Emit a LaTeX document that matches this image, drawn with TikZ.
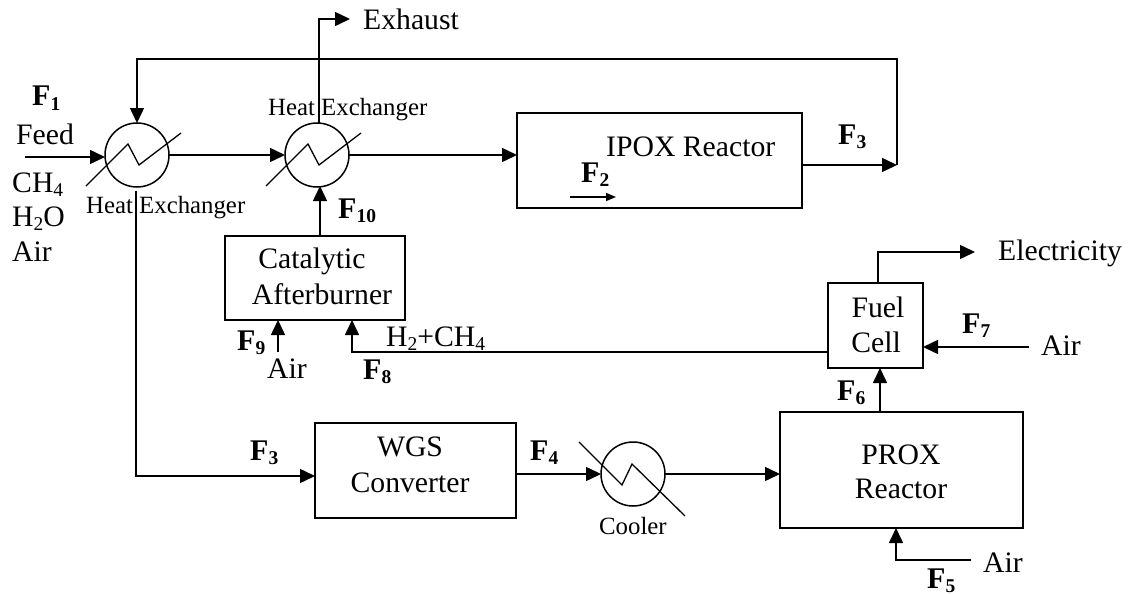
\documentclass[tikz,border=0pt]{standalone}
\usepackage{fontspec}
\setmainfont{Liberation Serif}
\usetikzlibrary{arrows.meta}
\tikzset{
  line/.style={line width=1.5pt,draw=black},
  flow/.style={line,-{Triangle[length=15pt,width=14pt]}},
  minor/.style={line,-{Triangle[length=10pt,width=8pt]}},
  zig/.style={line,line width=1.3pt},
  unit/.style={line,draw,inner sep=0pt,outer sep=0pt},
  hx/.style={line,draw,circle,minimum size=64pt,inner sep=0pt,outer sep=0pt},
  txt/.style={font=\fontsize{29.7}{30}\selectfont,inner sep=0pt,anchor=base west},
  ctxt/.style={txt,anchor=base},
  small/.style={font=\fontsize{24.8}{25}\selectfont,inner sep=0pt,anchor=base west},
  lab/.style={font=\fontsize{30}{30}\selectfont\bfseries,inner sep=0pt,anchor=base west}
}
\newcommand{\lowsub}[1]{\raisebox{-4.5pt}{\fontsize{19.5}{20}\selectfont #1}}
\newcommand{\fl}[4]{\node[lab] (#1) at (#2,#3) {F\lowsub{#4}};}
\begin{document}
\begin{tikzpicture}[x=1pt,y=-1pt]
\useasboundingbox (0,0) rectangle (1130,594);
% units
\node[unit,minimum width=285pt,minimum height=95pt] (ipox) at (659.5,160.5) {};
\node[unit,minimum width=180pt,minimum height=84pt] (cat) at (315,278) {};
\node[unit,minimum width=201pt,minimum height=95pt] (wgs) at (415.5,470.5) {};
\node[unit,minimum width=243pt,minimum height=116pt] (prox) at (901.5,470) {};
\node[unit,minimum width=95pt,minimum height=85pt] (fc) at (875.5,325.5) {};
\node[hx] (hxa) at (137,155) {};
\node[hx] (hxb) at (317,155) {};
\node[hx] (cool) at (633,474) {};
% zigzags
\draw[zig] ([shift={(-51,31)}]hxa.center) -- ([shift={(-9,-11)}]hxa.center) -- ([shift={(2,10)}]hxa.center) -- ([shift={(44,-22)}]hxa.center);
\draw[zig] ([shift={(-51,31)}]hxb.center) -- ([shift={(-9,-11)}]hxb.center) -- ([shift={(2,10)}]hxb.center) -- ([shift={(44,-22)}]hxb.center);
\draw[zig] ([shift={(-54,-32)}]cool.center) -- ([shift={(-11,11)}]cool.center) -- ([shift={(-1,-10)}]cool.center) -- ([shift={(52,42)}]cool.center);
% free ends
\coordinate (feed) at (25,157);
\coordinate (topr) at (897,59);
\coordinate (ipoxout) at (897,165);
\coordinate (exh) at (350,19);
\coordinate (ftwoa) at (570,197);
\coordinate (ftwob) at (616,197);
\coordinate (airc) at (278,352);
\coordinate (airf) at (1029,347);
\coordinate (airp) at (971,560);
\coordinate (elec) at (975,252);
\coordinate (hxaout) at (136,191);
\coordinate (hxbout) at (319,123);
% connectors
\draw[flow] (feed) -- (feed -| hxa.west);
\draw[flow] (ipox.east |- ipoxout) -- (ipoxout);
\draw[flow] (ipoxout) -- (topr) -- (topr -| hxa.north) -- (hxa.north);
\draw[flow] (hxbout) -- (319,19) -- (exh);
\draw[flow] (hxa.east) -- (hxb.west);
\draw[flow] (hxb.east) -- (ipox.west |- hxb.east);
\draw[minor] (ftwoa) -- (ftwob);
\draw[flow] (cat.north -| 320,0) -- (320,186);
\draw[flow] (hxaout) -- (136,476) -- (wgs.west |- 0,476);
\draw[flow] (wgs.east |- cool.west) -- (cool.west);
\draw[flow] (cool.east) -- (prox.west |- cool.east);
\draw[flow] (prox.north -| 880,0) -- (fc.south -| 880,0);
\draw[flow] (fc.north -| 878,0) -- (878,252) -- (elec);
\draw[flow] (airf) -- (fc.east |- airf);
\draw[flow] (fc.west |- 0,352) -- (352,352) -- (cat.south -| 352,0);
\draw[flow] (airc) -- (cat.south -| airc);
\draw[flow] (airp) -- (896,560) -- (prox.south -| 896,0);
% box text
\node[txt] (tipox) at (606,156) {IPOX Reactor};
\node[ctxt] (tcata) at (312,268) {Catalytic};
\node[ctxt] (tcatb) at (322,304) {Afterburner};
\node[ctxt] (twgsa) at (410,456) {WGS};
\node[ctxt] (twgsb) at (410,492) {Converter};
\node[ctxt] (tproxa) at (901,464) {PROX};
\node[ctxt] (tproxb) at (901,498) {Reactor};
\node[ctxt] (tfca) at (878,317) {Fuel};
\node[ctxt] (tfcb) at (876,352) {Cell};
% outer text
\node[txt] (texh) at (363,30) {Exhaust};
\node[txt] (telec) at (998,260) {Electricity};
\node[txt] (tairf) at (1041,355) {Air};
\node[txt] (tairp) at (983,572) {Air};
\node[txt] (tairc) at (267,378) {Air};
\node[txt] (tfeed) at (16,144) {Feed};
\node[txt] (tch) at (12,192) {CH\lowsub{4}};
\node[txt] (thto) at (12,226) {H\lowsub{2}O};
\node[txt] (tair) at (12,261) {Air};
\node[small] (thxa) at (86,213) {Heat Exchanger};
\node[small] (thxb) at (268,115) {Heat Exchanger};
\node[small] (tcool) at (599,534) {Cooler};
\node[txt] (tmix) at (386,346) {H\lowsub{2}+CH\lowsub{4}};
\fl{fa}{32}{106}{1}
\fl{fb}{581}{182}{2}
\fl{fc3}{838}{144}{3}
\fl{fd}{250}{460}{3}
\fl{fe}{530}{460}{4}
\fl{ff}{927}{588}{5}
\fl{fg}{837}{400}{6}
\fl{fh}{962}{333}{7}
\fl{fi}{363}{379}{8}
\fl{fj}{237}{350}{9}
\fl{fk}{338}{218}{10}
\end{tikzpicture}
\end{document}
